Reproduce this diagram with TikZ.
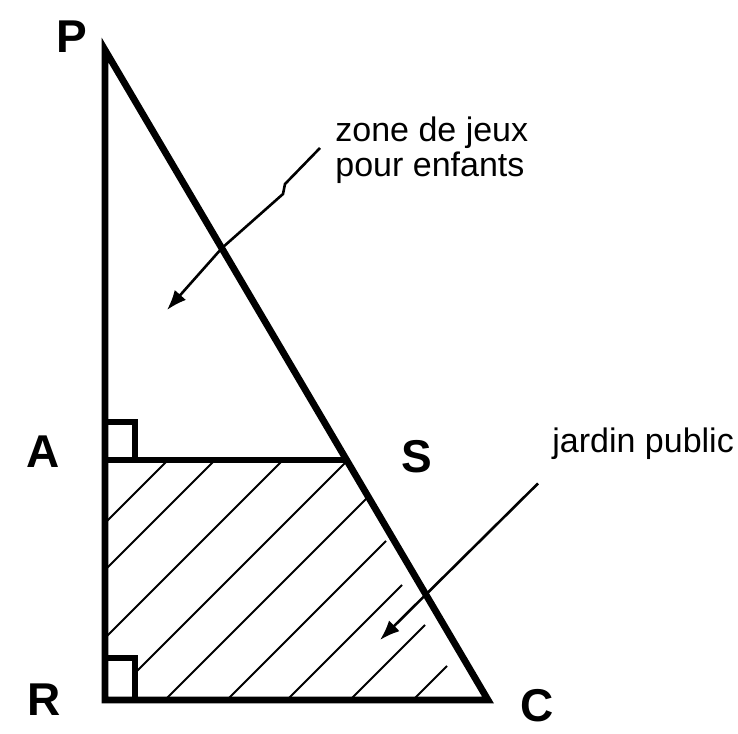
\documentclass[tikz,border=0pt]{standalone}
\usepackage{fontspec}
\setmainfont{Liberation Sans}
\usetikzlibrary{calc,arrows.meta}

\tikzset{
  side/.style={line width=3.4pt, line join=miter},
  hatch/.style={line width=1pt},
  pointer/.style={line width=1.3pt, -{Latex[length=10pt,width=7.5pt]}},
  vertex/.style={font=\fontsize{23}{23}\selectfont\bfseries, inner sep=0pt},
  caption/.style={font=\fontsize{17}{17.5}\selectfont, inner sep=0pt, align=left}
}

\begin{document}
\begin{tikzpicture}[x=0.5pt,y=0.5pt]
			\useasboundingbox (0,0) rectangle (738,733);
			\coordinate (P) at (105,683);
			\coordinate (A) at (105,273);
			\coordinate (S) at (347,273);
			\coordinate (R) at (105,33);
			\coordinate (C) at (488,33);
			
			%hatching of the garden
			\foreach \xa/\ya/\xb/\yb in {105/210/168/273, 105/163/215/273, 105/95/283/273, 137/62/347/272, 165/33/368/236, 227/33/386/192, 287/33/402/148, 350/33/425/108, 413/33/447/67}{
				\draw[hatch] (\xa,\ya) -- (\xb,\yb);
			}
			
			%right angles
			\draw[side] (A) rectangle ++(30,38);
			\draw[side] (R) rectangle ++(30,42);
			
			%triangle
			\draw[side] (P) -- (C) -- (R) -- cycle;
			\draw[side] (A) -- (S);
			
			%vertices
			\node[vertex] (lP) at (72,696) {P};
			\node[vertex] (lA) at (43,281) {A};
			\node[vertex] (lS) at (417,276) {S};
			\node[vertex] (lR) at (44,33) {R};
			\node[vertex] (lC) at (537,27) {C};
			
			%captions
			\node[caption, anchor=west] (zone) at (335,583) {zone de jeux\\pour enfants};
			\node[caption, anchor=base west] (jardin) at (552,280) {jardin public};
			
			%pointers
			\coordinate (z1) at (285,549);
			\coordinate (z2) at (283,539);
			\coordinate (z3) at (222,485);
			\coordinate (z4) at (167,423);
			\draw[pointer] ([shift={(-15,2)}]zone.west) -- (z1) -- (z2) -- (z3) -- (z4);
			\coordinate (j1) at (380,93);
			\draw[pointer] ([shift={(-14,-23)}]jardin.south west) -- (j1);
\end{tikzpicture}
\end{document}
